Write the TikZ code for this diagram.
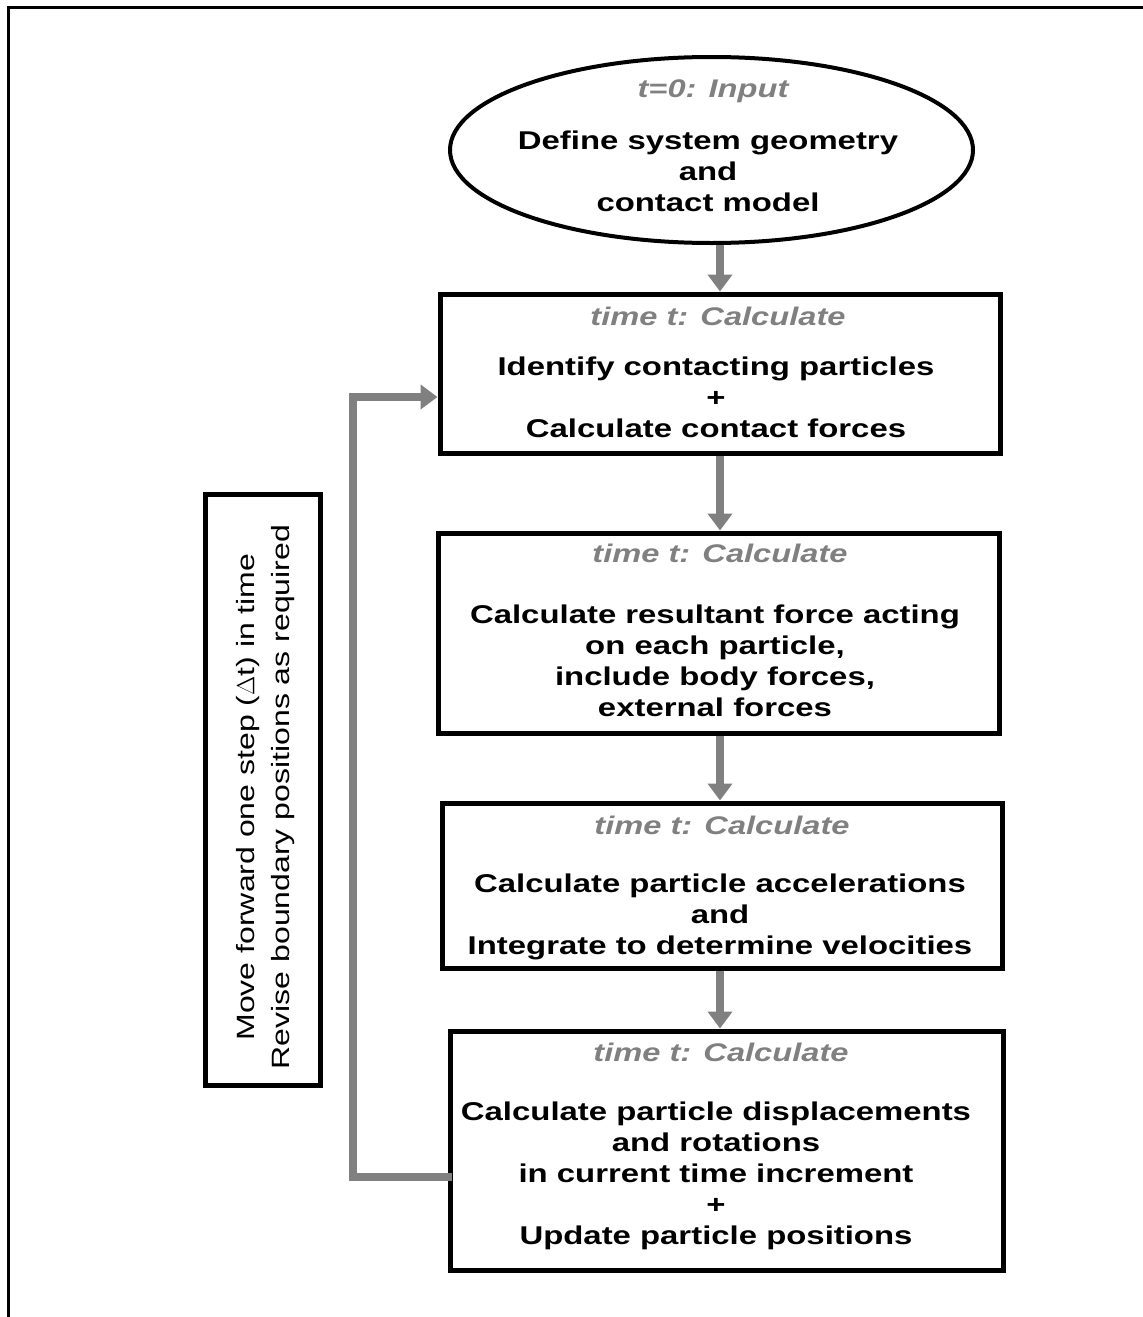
\documentclass[tikz,border=0pt]{standalone}
\usepackage{fontspec}
\setmainfont{Liberation Sans}[FakeStretch=1.28]
\usetikzlibrary{shapes.geometric,arrows.meta}
\definecolor{flowgray}{HTML}{808080}
\definecolor{titlegray}{HTML}{808080}
\begin{document}
\begin{tikzpicture}[x=1pt,y=-1pt,
  frame/.style={line width=3pt},
  stepbox/.style={draw, line width=5pt, rectangle, inner sep=0pt},
  startoval/.style={draw, line width=4pt, ellipse, inner sep=0pt},
  steptitle/.style={font=\fontsize{25.5}{30}\selectfont\bfseries\itshape, text=titlegray, inner sep=0pt},
  stepbody/.style={font=\fontsize{25.7}{31}\selectfont\bfseries, align=center, inner sep=0pt},
  sidetext/.style={font=\fontsize{25}{35}\selectfont, align=center, inner sep=0pt, rotate=90},
  flow/.style={draw=flowgray, line width=8pt, -{Triangle[length=17pt,width=24pt]}}
]
\useasboundingbox (0,0) rectangle (1143,1317);

% outer frame (top and left edges)
\draw[frame] (8,1317) -- (8,7) -- (1143,7);

% start oval
\node[startoval, minimum width=523, minimum height=186] (ell) at (711.5,150) {};
\node[steptitle] (ellT) at (713,91) {t=0: Input};
\node[stepbody] (ellB) at (708,171) {Define system geometry\\and\\contact model};

% step 1
\node[stepbox, minimum width=560, minimum height=159] (b1) at (720,373.5) {};
\node[steptitle] (b1T) at (718,316) {time t: Calculate};
\node[stepbody] (b1B) at (716,397) {Identify contacting particles\\+\\Calculate contact forces};

% step 2
\node[stepbox, minimum width=561, minimum height=200] (b2) at (718.5,633) {};
\node[steptitle] (b2T) at (720,553) {time t: Calculate};
\node[stepbody] (b2B) at (715,661) {Calculate resultant force acting\\on each particle,\\include body forces,\\external forces};

% step 3
\node[stepbox, minimum width=560, minimum height=165] (b3) at (722,885.5) {};
\node[steptitle] (b3T) at (722,825) {time t: Calculate};
\node[stepbody] (b3B) at (720,916.5) {Calculate particle accelerations\\and\\Integrate to determine velocities};

% step 4
\node[stepbox, minimum width=553, minimum height=239] (b4) at (726.5,1150.5) {};
\node[steptitle] (b4T) at (721,1052) {time t: Calculate};
\node[stepbody] (b4B) at (716,1176) {Calculate particle displacements\\and rotations\\in current time increment\\+\\Update particle positions};

% time step box
\node[stepbox, minimum width=591, minimum height=115, rotate=90] (side) at (262.5,789.5) {};
\node[sidetext] (sideT) at (265.5,797) {Move forward one step ($\Delta$t) in time\\Revise boundary positions as required};

% connectors
\draw[flow] (ell.south -| b1.north) -- (b1.north);
\draw[flow] (b1.south) -- (b1.south |- b2.north);
\draw[flow] (b2.south -| b1.south) -- (b1.south |- b3.north);
\draw[flow] (b3.south -| b1.south) -- (b1.south |- b4.north);
\draw[flow, line cap=rect] ([yshift=-26.5pt]b4.west) -- ++(-95,0) |- ([yshift=-23.5pt]b1.west);
\end{tikzpicture}
\end{document}
